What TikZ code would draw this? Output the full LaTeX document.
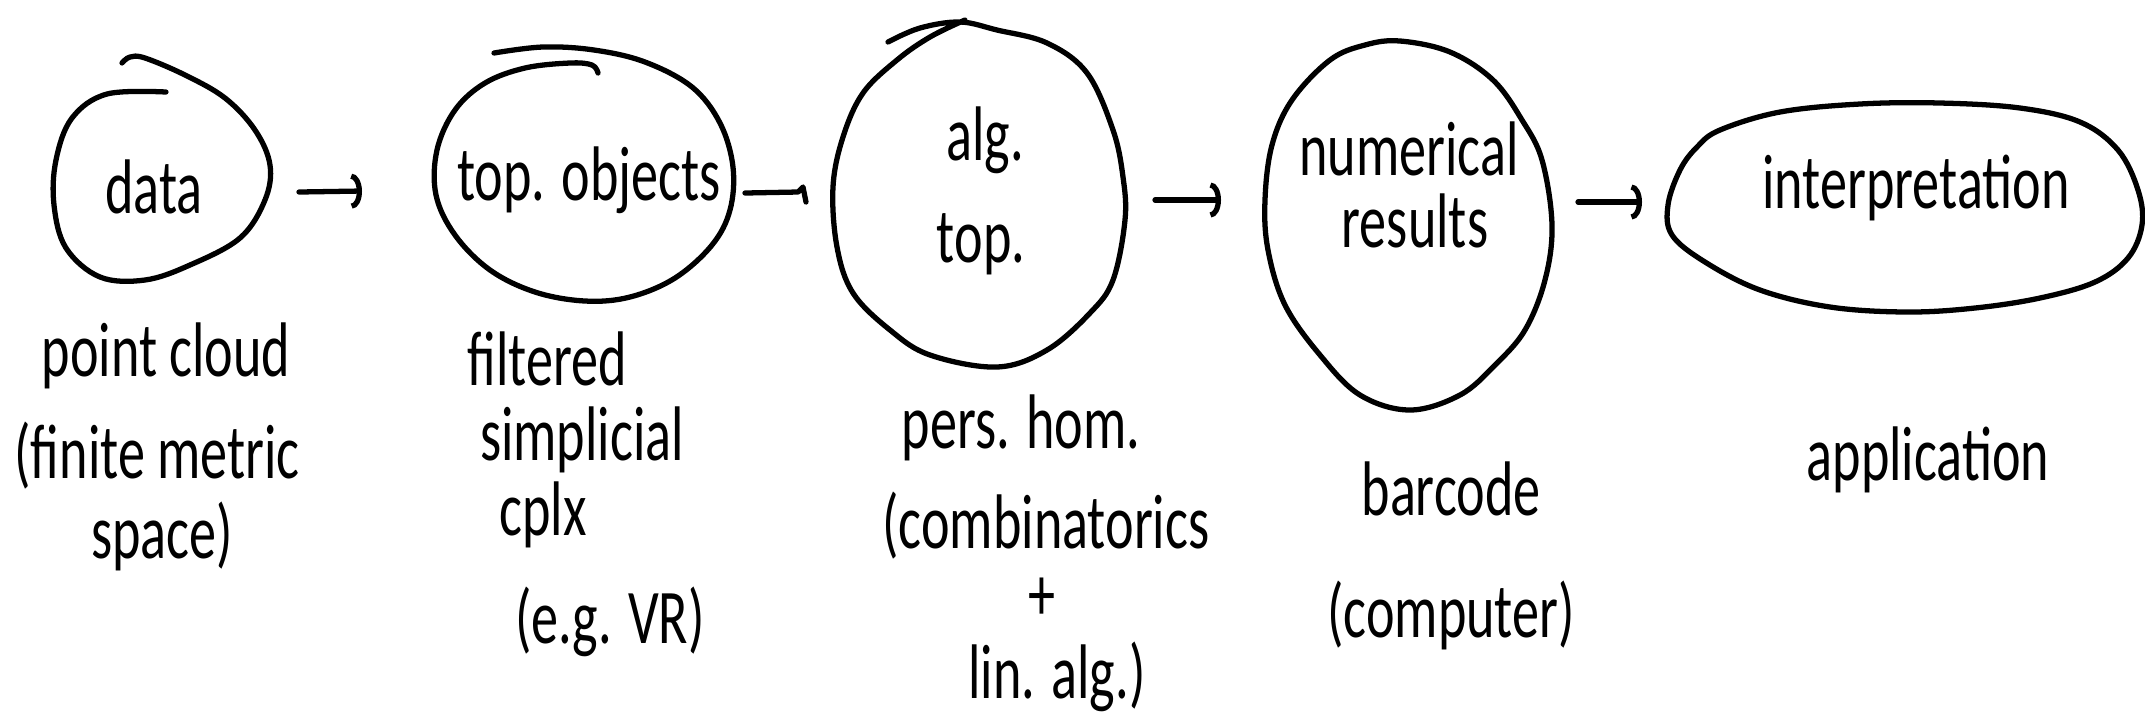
\documentclass[tikz,border=0pt]{standalone}
\usepackage{fontspec}
\newfontfamily\hand{Carlito}[FakeStretch=0.7]
\usetikzlibrary{arrows.meta}
\tikzset{
  outline/.style={draw=black, line width=1.5pt, line cap=round, line join=round},
  conn/.style={draw=black, line width=1.5pt, line cap=round, -{Arc Barb[width=10pt,length=3pt]}},
  lbl/.style={font=\hand\fontsize{22}{26}\selectfont, inner sep=0pt, anchor=base, text=black}
}
\begin{document}
\begin{tikzpicture}[x=0.01cm, y=-0.01cm]
\useasboundingbox (0,0) rectangle (2145,726);
% outlines
\draw[outline] plot[smooth, tension=0.6] coordinates {(166,92) (107,94) (72,118) (56,160) (54,205) (66,248) (100,277) (145,280) (190,265) (240,238) (265,200) (270,165) (255,130) (225,98) (185,75) (145,58) (130,57) (122,63)};
\draw[outline] plot[smooth, tension=0.6] coordinates {(494,53) (543,47) (594,50) (645,62) (692,87) (720,123) (733,167) (730,210) (712,245) (675,278) (630,297) (585,301) (535,292) (490,270) (455,235) (436,195) (437,150) (455,110) (485,83) (525,68) (570,63) (592,65) (598,73)};
\draw[outline] plot[smooth, tension=0.6] coordinates {(888,42) (920,28) (960,22) (997,30) (1047,43) (1087,73) (1113,130) (1123,177) (1125,220) (1113,280) (1090,313) (1047,350) (997,367) (930,355) (890,330) (853,293) (837,247) (833,187) (843,137) (863,93) (897,60) (930,37) (965,20)};
\draw[outline] plot[smooth cycle, tension=0.6] coordinates {(1400,41) (1450,52) (1493,80) (1522,120) (1542,160) (1552,225) (1545,280) (1525,330) (1495,365) (1460,395) (1410,410) (1360,395) (1320,355) (1285,305) (1268,250) (1265,200) (1272,145) (1292,100) (1330,60) (1365,45)};
\draw[outline] plot[smooth cycle, tension=0.6] coordinates {(1720,130) (1780,112) (1860,104) (1940,103) (2020,108) (2080,122) (2118,150) (2138,190) (2142,225) (2128,258) (2095,282) (2040,298) (1975,308) (1907,312) (1830,307) (1760,290) (1705,262) (1672,235) (1668,205) (1680,170) (1697,147)};
% texts inside
\node[lbl] (tdata) at (154,213) {data};
\node[lbl] (ttop) at (589,200) {top. objects};
\node[lbl] (talg1) at (985,160) {alg.};
\node[lbl] (talg2) at (981,262) {top.};
\node[lbl] (tnum1) at (1409,175) {numerical};
\node[lbl] (tnum2) at (1415,247) {results};
\node[lbl] (tint) at (1916,208) {interpretation};
% texts below
\node[lbl] (pc1) at (166,376) {point cloud};
\node[lbl] (pc2) at (157,478) {(finite metric};
\node[lbl] (pc3) at (162,558) {space)};
\node[lbl] (fs1) at (547,385) {filtered};
\node[lbl] (fs2) at (582,460) {simplicial};
\node[lbl] (fs3) at (543,535) {cplx};
\node[lbl] (fs4) at (610,643) {(e.g. VR)};
\node[lbl] (ph1) at (1021,448) {pers. hom.};
\node[lbl] (ph2) at (1046,548) {(combinatorics};
\node[lbl, anchor=center] (ph3) at (1042,599) {+};
\node[lbl] (ph4) at (1057,698) {lin. alg.)};
\node[lbl] (bc1) at (1451,515) {barcode};
\node[lbl] (bc2) at (1451,637) {(computer)};
\node[lbl] (app) at (1928,480) {application};
% connectors
\coordinate (a1s) at (299,192); \coordinate (a1e) at (362,191);
\coordinate (a2s) at (745,193); \coordinate (a2e) at (798,192);
\coordinate (a3s) at (1155,200); \coordinate (a3e) at (1221,200);
\coordinate (a4s) at (1578,202); \coordinate (a4e) at (1642,202);
\draw[conn] (a1s) -- (a1e);
\draw[outline] (a2s) -- (a2e) -- ++(5,-5) -- ++(3,15);
\draw[conn] (a3s) -- (a3e);
\draw[conn] (a4s) -- (a4e);
\end{tikzpicture}
\end{document}
